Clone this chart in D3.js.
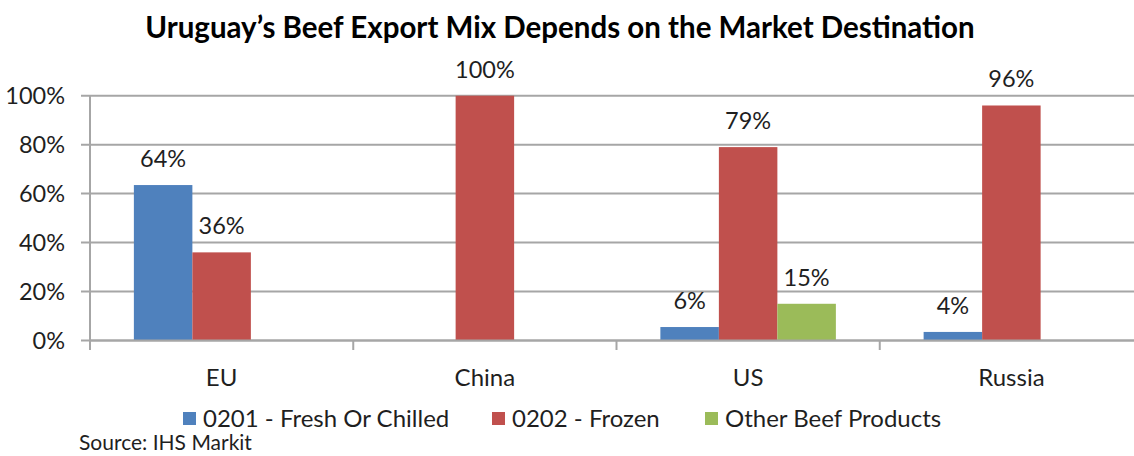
<!DOCTYPE html>
<html>
<head>
<meta charset="utf-8">
<script src="https://cdn.jsdelivr.net/npm/d3@7"></script>
<style>
html,body{margin:0;padding:0;background:#fff;}
svg{display:block;font-family:Lato,"Open Sans",sans-serif;}
</style>
</head>
<body>
<svg id="chart" width="1134" height="456"></svg>
<script>
const categories = ["EU", "China", "US", "Russia"];
const seriesNames = ["0201 - Fresh Or Chilled", "0202 - Frozen", "Other Beef Products"];
const freshChilled = [63.5, 0, 5.5, 3.5];
const frozen = [36, 100, 79, 96];
const otherBeef = [0, 0, 15, 0];
const yTicks = [0, 20, 40, 60, 80, 100];
const colors = ["#4F81BD", "#C0504D", "#9BBB59"];
const title = "Uruguay\u2019s Beef Export Mix Depends on the Market Destination";
const source = "Source: IHS Markit";

const seriesValues = [freshChilled, frozen, otherBeef];
const svg = d3.select("#chart");
const textColor = "#1f1f1f";
const gridColor = "#a6a6a6";

const x0 = d3.scaleBand().domain(categories).range([90, 1143]).paddingInner(0).paddingOuter(0);
const groupW = x0.bandwidth() * (3 / 4.5);
const x1 = d3.scaleBand().domain(d3.range(seriesNames.length)).range([0, groupW]).padding(0);
const y = d3.scaleLinear().domain([0, 100]).range([340.5, 95.7]);

// title
svg.append("text").attr("x", 560).attr("y", 38).attr("text-anchor", "middle")
  .attr("font-weight", "bold").attr("font-size", 29.5).attr("fill", "#000").text(title);

// gridlines
svg.append("g").selectAll("line").data(yTicks).join("line")
  .attr("x1", 81).attr("x2", 1143)
  .attr("y1", d => y(d)).attr("y2", d => y(d))
  .attr("stroke", gridColor).attr("stroke-width", 2);

// y axis labels
svg.append("g").selectAll("text").data(yTicks).join("text")
  .attr("x", 65).attr("y", d => y(d)).attr("dy", "0.35em")
  .attr("text-anchor", "end").attr("font-size", 23.5).attr("fill", textColor)
  .text(d => d + "%");

// bars
const groups = svg.append("g").selectAll("g").data(categories).join("g")
  .attr("transform", d => `translate(${x0(d) + (x0.bandwidth() - groupW) / 2},0)`);
groups.each(function(cat, ci) {
  const g = d3.select(this);
  seriesValues.forEach((vals, si) => {
    const v = vals[ci];
    if (v <= 0) return;
    g.append("rect").attr("x", x1(si)).attr("width", x1.bandwidth())
      .attr("y", y(v)).attr("height", y(0) - y(v)).attr("fill", colors[si]);
    g.append("text").attr("x", x1(si) + x1.bandwidth() / 2).attr("y", y(v) - 18)
      .attr("text-anchor", "middle").attr("font-size", 23.5).attr("fill", textColor)
      .text(Math.round(v) + "%");
  });
});

// x axis
svg.append("line").attr("x1", 90).attr("x2", 1143).attr("y1", y(0)).attr("y2", y(0))
  .attr("stroke", gridColor).attr("stroke-width", 2);
svg.append("line").attr("x1", 90).attr("x2", 90).attr("y1", y(100)).attr("y2", 350)
  .attr("stroke", gridColor).attr("stroke-width", 2);
svg.append("g").selectAll("line").data(categories.slice(1)).join("line")
  .attr("x1", d => x0(d)).attr("x2", d => x0(d)).attr("y1", y(0)).attr("y2", 350)
  .attr("stroke", gridColor).attr("stroke-width", 2);
svg.append("g").selectAll("text").data(categories).join("text")
  .attr("x", d => x0(d) + x0.bandwidth() / 2).attr("y", 386)
  .attr("text-anchor", "middle").attr("font-size", 24).attr("fill", textColor)
  .text(d => d);

// legend
const legendX = [183, 492, 705];
const legend = svg.append("g").selectAll("g").data(seriesNames).join("g")
  .attr("transform", (d, i) => `translate(${legendX[i]},0)`);
legend.append("rect").attr("x", 0).attr("y", 412).attr("width", 13).attr("height", 13)
  .attr("fill", (d, i) => colors[i]);
legend.append("text").attr("x", 20).attr("y", 427).attr("font-size", 24)
  .attr("fill", textColor).text(d => d);

// source
svg.append("text").attr("x", 79).attr("y", 450).attr("font-size", 21)
  .attr("fill", textColor).text(source);
</script>
</body>
</html>
